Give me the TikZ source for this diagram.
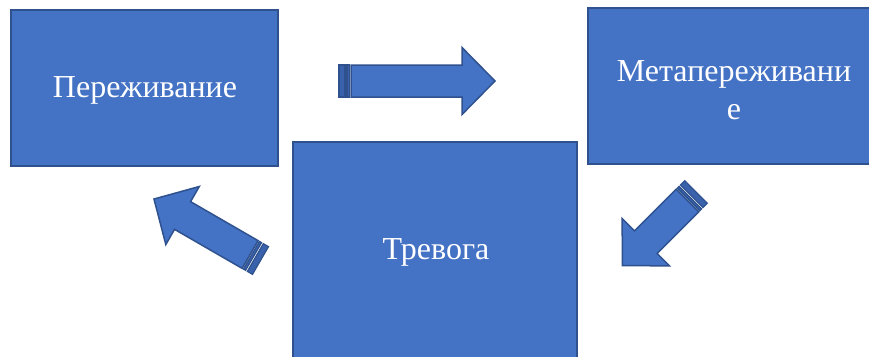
\documentclass[tikz,border=0pt]{standalone}
\usepackage{fontspec}
\setmainfont{Liberation Serif}
\definecolor{boxfill}{HTML}{4472C4}
\definecolor{boxline}{HTML}{2F528F}
\definecolor{stripefill}{HTML}{3A62AC}
\tikzset{
  box/.style={draw=boxline, fill=boxfill, line width=1.5pt, text=white,
    font=\fontsize{32}{36}\selectfont, inner sep=0pt, align=center},
  arrowbody/.style={draw=boxline, fill=boxfill, line width=1.5pt, line join=miter},
  arrowstripe/.style={draw=boxline, fill=stripefill, line width=1.2pt}
}
% #1 tail centre, #2 angle, #3 length
\newcommand\mystripedarrow[3]{%
  \begin{scope}[shift={#1}, rotate=#2]
    \path[arrowbody] (12,-16) -- ({#3-33},-16) -- ({#3-33},-33.5) -- (#3,0)
      -- ({#3-33},33.5) -- ({#3-33},16) -- (12,16) -- cycle;
    \path[arrowstripe] (0,-16) rectangle (6,16);
    \path[arrowstripe] (8,-16) rectangle (10.5,16);
  \end{scope}}
\begin{document}
\begin{tikzpicture}[x=1pt,y=-1pt]
  \useasboundingbox (0,0) rectangle (869,356);
  \clip (0,0) rectangle (869,356);
  \node[box, minimum width=267pt, minimum height=156pt] (exp) at (144.5,88) {};
  \node[text=white, font=\fontsize{32}{36}\selectfont, inner sep=0pt] (expt) at (145,90) {Переживание};
  \node[box, minimum width=292pt, minimum height=156pt] (meta) at (734,86) {};
  \node[text=white, font=\fontsize{32}{38}\selectfont, inner sep=0pt, align=center] (metat) at (734,90) {Метапереживани\\е};
  \node[box, minimum width=284pt, minimum height=216pt] (anx) at (435,250) {};
  \node[text=white, font=\fontsize{32}{36}\selectfont, inner sep=0pt] (anxt) at (436,252) {Тревога};
  \mystripedarrow{(339,81)}{0}{156}
  \mystripedarrow{(696,192)}{225}{104}
  \mystripedarrow{(260.5,260.5)}{150}{123}
\end{tikzpicture}
\end{document}
